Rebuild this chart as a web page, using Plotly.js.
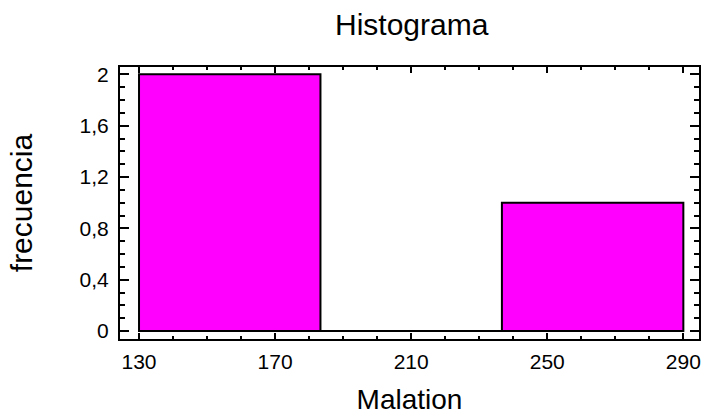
<!DOCTYPE html>
<html>
<head>
<meta charset="utf-8">
<script src="https://cdn.plot.ly/plotly-3.0.1.min.js"></script>
<style>html,body{margin:0;padding:0;background:#fff;}#chart{width:705px;height:417px;}</style>
</head>
<body>
<div id="chart"></div>
<script>
// Data
var binEdges = [130, 183.333, 236.667, 290];
var counts = [2, 0, 1];
var xTickVals = [130, 170, 210, 250, 290];
var yTickVals = [0, 0.4, 0.8, 1.2, 1.6, 2];
var yTickText = ['0', '0,4', '0,8', '1,2', '1,6', '2'];

var centers = [], widths = [];
for (var i = 0; i < counts.length; i++) {
  centers.push((binEdges[i] + binEdges[i + 1]) / 2);
  widths.push(binEdges[i + 1] - binEdges[i]);
}

var FONT = 'Liberation Sans, Arial, sans-serif';

var baseline = {
  type: 'scatter', mode: 'lines',
  x: [binEdges[0], binEdges[binEdges.length - 1]], y: [0, 0],
  line: {color: '#000', width: 2}, hoverinfo: 'skip', showlegend: false
};
var bars = {
  type: 'bar', x: centers, y: counts, width: widths,
  marker: {color: '#FF00FF', line: {color: '#000', width: 2}},
  showlegend: false
};

var layout = {
  width: 705, height: 417,
  margin: {l: 120, r: 6, t: 67, b: 78},
  paper_bgcolor: '#fff', plot_bgcolor: '#fff',
  separators: ',.',
  font: {family: FONT, color: '#000', size: 21},
  title: {text: 'Histograma', font: {family: FONT, size: 30, color: '#000'}, x: 0.584, xanchor: 'center', y: 0.941, yanchor: 'middle'},
  xaxis: {
    range: [124.41, 294.6], tickvals: xTickVals, ticktext: xTickVals.map(String),
    ticks: 'inside', ticklen: 6, tickwidth: 2, tickcolor: '#000',
    minor: {dtick: 10, tick0: 130, ticks: 'inside', ticklen: 3, tickwidth: 2, tickcolor: '#000'},
    showline: true, linecolor: '#000', linewidth: 2, mirror: 'allticks',
    showgrid: false, zeroline: false, ticklabelstandoff: 3,
    tickfont: {family: FONT, size: 21, color: '#000'},
    title: {text: 'Malation', font: {family: FONT, size: 28, color: '#000'}, standoff: 17}
  },
  yaxis: {
    range: [-0.062, 2.057], tickvals: yTickVals, ticktext: yTickText,
    ticks: 'inside', ticklen: 9, tickwidth: 2, tickcolor: '#000',
    minor: {dtick: 0.1, tick0: 0, ticks: 'inside', ticklen: 5, tickwidth: 2, tickcolor: '#000'},
    showline: true, linecolor: '#000', linewidth: 2, mirror: 'allticks',
    showgrid: false, zeroline: false, ticklabelstandoff: 5,
    tickfont: {family: FONT, size: 21, color: '#000'},
    title: {text: 'frecuencia', font: {family: FONT, size: 30, color: '#000'}, standoff: 38}
  },
  bargap: 0
};

Plotly.newPlot('chart', [baseline, bars], layout, {displayModeBar: false, staticPlot: true});
</script>
</body>
</html>
